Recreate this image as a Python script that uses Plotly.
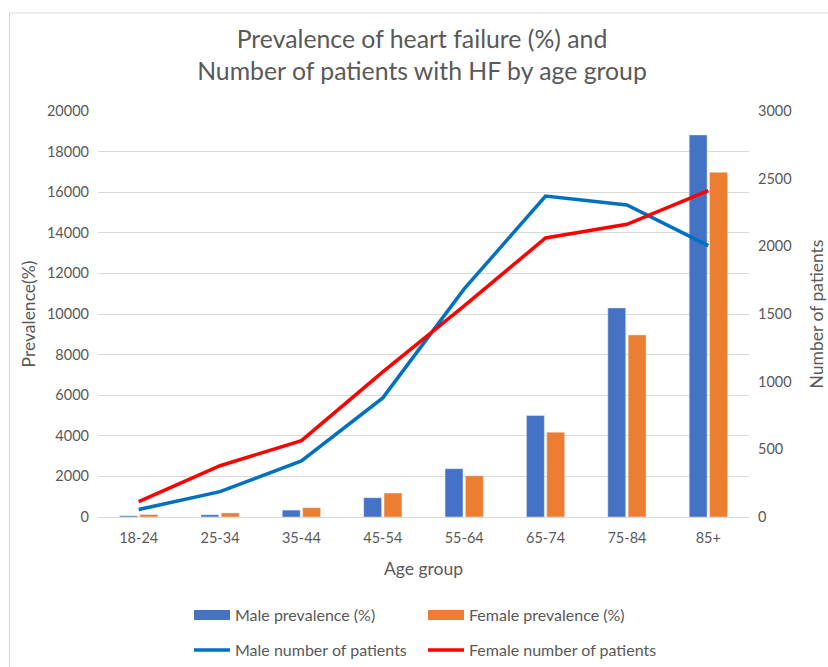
import plotly.graph_objects as go

age_groups = ["18-24", "25-34", "35-44", "45-54", "55-64", "65-74", "75-84", "85+"]
male_prev = [60, 110, 340, 950, 2380, 5000, 10300, 18820]
female_prev = [120, 200, 460, 1180, 2030, 4180, 8970, 16980]
male_patients = [55, 187, 414, 880, 1685, 2372, 2306, 2005]
female_patients = [113, 379, 564, 1072, 1560, 2062, 2163, 2412]

FONT = "Lato"
GREY = "#595959"
C_MALE_BAR, C_FEMALE_BAR = "#4472C4", "#ED7D31"
C_MALE_LINE, C_FEMALE_LINE = "#0070C0", "#FF0000"

fig = go.Figure()
fig.add_trace(go.Bar(x=age_groups, y=male_prev, name="Male prevalence (%)",
                     marker=dict(color=C_MALE_BAR), yaxis="y", showlegend=False))
fig.add_trace(go.Bar(x=age_groups, y=female_prev, name="Female prevalence (%)",
                     marker=dict(color=C_FEMALE_BAR), yaxis="y", showlegend=False))
# legend swatches for the bars (wide rectangles like the original)
fig.add_trace(go.Scatter(x=[None], y=[None], mode="lines", name="Male prevalence (%)",
                         line=dict(color=C_MALE_BAR, width=10), legend="legend", hoverinfo="skip"))
fig.add_trace(go.Scatter(x=[None], y=[None], mode="lines", name="Female prevalence (%)",
                         line=dict(color=C_FEMALE_BAR, width=10), legend="legend", hoverinfo="skip"))
fig.add_trace(go.Scatter(x=age_groups, y=male_patients, name="Male number of patients",
                         mode="lines", line=dict(color=C_MALE_LINE, width=3.5), yaxis="y2",
                         legend="legend2"))
fig.add_trace(go.Scatter(x=age_groups, y=female_patients, name="Female number of patients",
                         mode="lines", line=dict(color=C_FEMALE_LINE, width=3.5), yaxis="y2",
                         legend="legend2"))

W, H = 828, 667
L, T = 98, 111
pw, ph = 651, 406
R, B = W - L - pw, H - T - ph

def py(pix):
    return (T + ph - pix) / ph

def px(pix):
    return (pix - L) / pw

leg_common = dict(orientation="h", xanchor="left", yanchor="middle",
                  entrywidth=183, entrywidthmode="pixels",
                  font=dict(size=16, color=GREY), traceorder="normal",
                  itemwidth=36, bgcolor="rgba(0,0,0,0)")

fig.update_layout(
    width=W, height=H,
    margin=dict(l=L, r=R, t=T, b=B, autoexpand=False),
    paper_bgcolor="white", plot_bgcolor="white",
    font=dict(family=FONT, color=GREY, size=14),
    title=dict(text="Prevalence of heart failure (%) and<br>Number of patients with HF by age group",
               x=422 / W, xanchor="center", y=1 - 48 / H, yanchor="middle",
               font=dict(size=24.8, color=GREY, family=FONT)),
    barmode="group", bargap=0.5, bargroupgap=0.12,
    xaxis=dict(showgrid=False, showline=True, linecolor="#D9D9D9", linewidth=1,
               ticks="", tickfont=dict(size=14.5, color=GREY), automargin=False,
               ticklabelstandoff=8,
               title=dict(text="Age group", font=dict(size=17.5, color=GREY), standoff=17)),
    yaxis=dict(range=[0, 20000], dtick=2000, showgrid=True, gridcolor="#D9D9D9",
               zeroline=False, showline=False, ticks="", tickformat="d", automargin=False,
               tickfont=dict(size=14.5, color=GREY), ticklabelstandoff=8,
               title=dict(text="Prevalence(%)", font=dict(size=17.5, color=GREY), standoff=6)),
    yaxis2=dict(range=[0, 3000], dtick=500, overlaying="y", side="right",
                showgrid=False, zeroline=False, ticks="", tickformat="d", automargin=False,
                tickfont=dict(size=14.5, color=GREY), ticklabelstandoff=8,
                title=dict(text="Number of patients", font=dict(size=17.5, color=GREY), standoff=20)),
    legend=dict(x=px(189), y=py(615), **leg_common),
    legend2=dict(x=px(189), y=py(650), **leg_common),
    shapes=[dict(type="rect", xref="paper", yref="paper",
                 x0=px(9.5), x1=px(W + 5),
                 y0=py(H + 5), y1=py(13),
                 line=dict(color="#D9D9D9", width=1), fillcolor="rgba(0,0,0,0)", layer="below")],
)

fig.write_html("out.html", config={"displayModeBar": False},
               post_script="document.body.style.margin='0';document.body.style.overflow='hidden';")
